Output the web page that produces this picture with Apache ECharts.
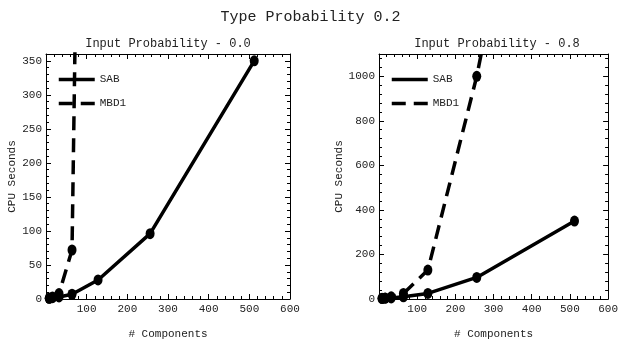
<!DOCTYPE html>
<html>
<head>
<meta charset="utf-8">
<script src="https://cdn.jsdelivr.net/npm/echarts@6/dist/echarts.min.js"></script>
<style>
  html, body { margin: 0; padding: 0; background: #fff; }
  #chart { width: 621px; height: 345px; }
</style>
</head>
<body>
<div id="chart"></div>
<script>
// x = number of components
const components = [8, 16, 32, 64, 128, 256, 512]

// Input Probability - 0.0
const sabLeft = [1, 2, 3, 7, 28, 96, 350]
const mbdLeft = [1, 3, 8, 72, 2700]

// Input Probability - 0.8
const sabRight = [2, 3, 5, 10, 25, 97, 350]
const mbdRight = [3, 5, 10, 25, 130, 1000, 3200]

const pairs = (xs, ys) => ys.map((y, i) => [xs[i], y])

const FONT = '"Liberation Mono", "DejaVu Sans Mono", monospace'
const INK = '#000'
const TEXT = '#222'

const frameX = (grid, pos, show) => ({
  type: 'value',
  gridIndex: grid,
  position: pos,
  min: 0,
  max: 600,
  interval: 100,
  axisLine: { show: true, onZero: false, lineStyle: { color: INK, width: 1 } },
  axisTick: { show: true, inside: true, length: 5, lineStyle: { color: INK } },
  minorTick: { show: true, splitNumber: 5, length: 3, lineStyle: { color: INK } },
  splitLine: { show: false },
  axisLabel: {
    show,
    showMinLabel: false,
    color: TEXT,
    fontFamily: FONT,
    fontSize: 11,
    margin: 5,
  },
  name: show ? '# Components' : '',
  nameLocation: 'middle',
  nameGap: 30,
  nameTextStyle: { color: TEXT, fontFamily: FONT, fontSize: 11 },
})

const frameY = (grid, pos, show, max, interval, gap) => ({
  type: 'value',
  gridIndex: grid,
  position: pos,
  min: 0,
  max,
  interval,
  axisLine: { show: true, onZero: false, lineStyle: { color: INK, width: 1 } },
  axisTick: { show: true, inside: true, length: 5, lineStyle: { color: INK } },
  minorTick: { show: true, splitNumber: 5, length: 3, lineStyle: { color: INK } },
  splitLine: { show: false },
  axisLabel: {
    show,
    showMaxLabel: false,
    color: TEXT,
    fontFamily: FONT,
    fontSize: 11,
    margin: 4,
    formatter: (v) => String(v),
  },
  name: show ? 'CPU Seconds' : '',
  nameLocation: 'middle',
  nameGap: gap,
  nameTextStyle: { color: TEXT, fontFamily: FONT, fontSize: 11 },
})

const lineSeries = (name, data, xi, yi, dashed) => ({
  name,
  type: 'line',
  xAxisIndex: xi,
  yAxisIndex: yi,
  data,
  clip: true,
  symbol: 'circle',
  symbolSize: [9, 11],
  itemStyle: { color: INK },
  lineStyle: { color: INK, width: 3.5, type: dashed ? [14, 8] : 'solid' },
  animation: false,
})

const legendAt = (left) => ({
  orient: 'vertical',
  left,
  top: 74,
  padding: 0,
  itemWidth: 36,
  itemHeight: 4,
  itemGap: 13,
  itemStyle: { opacity: 0 },
  lineStyle: { width: 3.5 },
  selectedMode: false,
  textStyle: { color: TEXT, fontFamily: FONT, fontSize: 11 },
  data: ['SAB', 'MBD1'],
})

const option = {
  backgroundColor: '#fff',
  animation: false,
  title: [
    {
      text: 'Type Probability 0.2',
      left: 'center',
      top: 5,
      textStyle: { color: TEXT, fontFamily: FONT, fontSize: 15, fontWeight: 'normal' },
    },
    {
      text: 'Input Probability - 0.0',
      left: 163,
      textAlign: 'center',
      top: 33,
      textStyle: { color: TEXT, fontFamily: FONT, fontSize: 12, fontWeight: 'normal' },
    },
    {
      text: 'Input Probability - 0.8',
      left: 492,
      textAlign: 'center',
      top: 33,
      textStyle: { color: TEXT, fontFamily: FONT, fontSize: 12, fontWeight: 'normal' },
    },
  ],
  legend: [legendAt(57), legendAt(390)],
  grid: [
    { left: 46, top: 54, width: 244, height: 249 },
    { left: 379, top: 54, width: 238, height: 249 },
  ],
  xAxis: [
    frameX(0, 'bottom', true),
    frameX(0, 'top', false),
    frameX(1, 'bottom', true),
    frameX(1, 'top', false),
  ],
  yAxis: [
    frameY(0, 'left', true, 360, 50, 28),
    frameY(0, 'right', false, 360, 50, 0),
    frameY(1, 'left', true, 1100, 200, 34),
    frameY(1, 'right', false, 1100, 200, 0),
  ],
  series: [
    lineSeries('SAB', pairs(components, sabLeft), 0, 0, false),
    lineSeries('MBD1', pairs(components, mbdLeft), 0, 0, true),
    lineSeries('SAB', pairs(components, sabRight), 2, 2, false),
    lineSeries('MBD1', pairs(components, mbdRight), 2, 2, true),
  ],
}

const chart = echarts.init(document.getElementById('chart'), null, { renderer: 'canvas' })
chart.setOption(option)
</script>
</body>
</html>
